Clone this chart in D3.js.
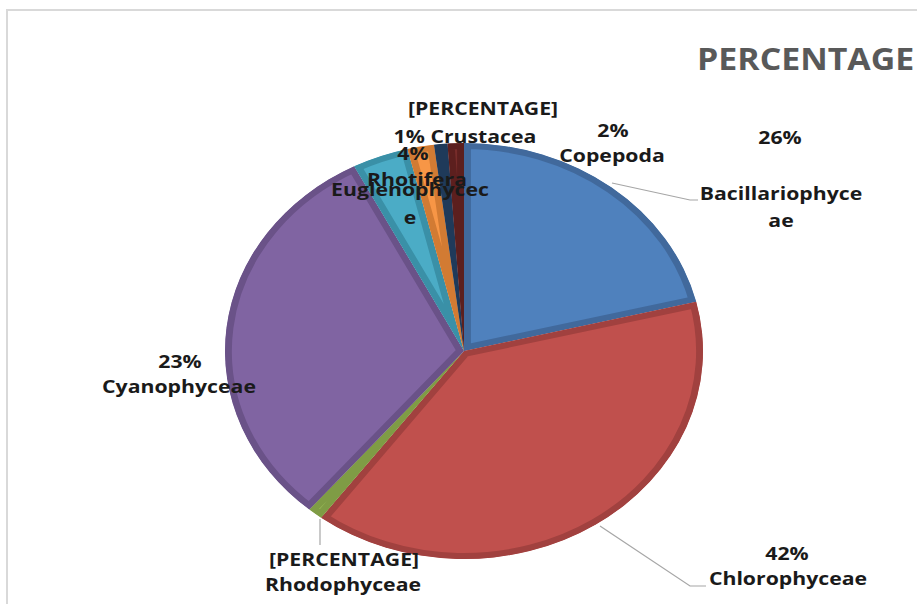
<!DOCTYPE html>
<html>
<head>
<meta charset="utf-8">
<script src="https://cdn.jsdelivr.net/npm/d3@7"></script>
<style>
  body { margin: 0; background: #fff; }
  svg { display: block; }
</style>
</head>
<body>
<div></div>
<script>
const width = 917;
const height = 604;

// slice sizes (labels in the original do not match them)
const categories = ['Bacillariophyceae', 'Chlorophyceae', 'Rhodophyceae', 'Cyanophyceae',
    'Euglenophyceae', 'Rhotifera', 'Crustacea', 'Copepoda'];
const values = [21.2, 39, 1, 31.2, 3.8, 1.8, 0.9, 1.1];
const colors = ['#4f81bd', '#c0504d', '#9bbb59', '#8064a2', '#4bacc6', '#f79646', '#2c4d75', '#772c2a'];
const edgeColors = ['#41699c', '#a1413f', '#7f9c45', '#6a5288', '#3a90a7', '#d27b33', '#1f3a5a', '#5c1f1e'];

// data label lines as printed on the chart
const labelLines = [
    {text: '26%', x: 780, y: 144},
    {text: 'Bacillariophyce', x: 781, y: 200},
    {text: 'ae', x: 781, y: 227},
    {text: '42%', x: 787, y: 560},
    {text: 'Chlorophyceae', x: 788, y: 585},
    {text: '[PERCENTAGE]', x: 344, y: 566},
    {text: 'Rhodophyceae', x: 343, y: 591},
    {text: '23%', x: 180, y: 368},
    {text: 'Cyanophyceae', x: 179, y: 393},
    {text: 'Euglenophycec', x: 410, y: 196},
    {text: 'e', x: 410, y: 224},
    {text: '4%', x: 413, y: 160},
    {text: 'Rhotifera', x: 417, y: 186},
    {text: '[PERCENTAGE]', x: 483, y: 115},
    {text: '1% Crustacea', x: 465, y: 143},
    {text: '2%', x: 613, y: 137},
    {text: 'Copepoda', x: 612, y: 162}
];

const leaders = [
    [[612, 183], [690, 200], [698, 200]],
    [[600, 526], [690, 586], [706, 586]],
    [[320, 519], [320, 545]]
];

const cx = 464, cy = 351, rx = 239, ry = 208;
const stretch = rx / ry; // the whole picture is wider than tall

const svg = d3.select('div').append('svg').attr('width', width).attr('height', height);

svg.append('rect')
    .attr('x', 7).attr('y', 10)
    .attr('width', 930).attr('height', 620)
    .attr('fill', '#fff')
    .attr('stroke', '#d9d9d9')
    .attr('stroke-width', 2);

const pie = d3.pie().sort(null).value(d => d)(values);
const arc = d3.arc().innerRadius(0).outerRadius(ry);

const defs = svg.append('defs');
defs.selectAll('clipPath').data(pie).enter()
    .append('clipPath')
    .attr('id', (d, i) => 'clip' + i)
    .append('path')
    .attr('d', arc);

const g = svg.append('g')
    .attr('transform', 'translate(' + cx + ',' + cy + ') scale(' + stretch + ',1)');

g.selectAll('path.slice').data(pie).enter()
    .append('path')
    .attr('class', 'slice')
    .attr('d', arc)
    .attr('fill', (d, i) => colors[i])
    .attr('stroke', (d, i) => edgeColors[i])
    .attr('stroke-width', 12)
    .attr('clip-path', (d, i) => 'url(#clip' + i + ')');

const line = d3.line();
svg.selectAll('path.leader').data(leaders).enter()
    .append('path')
    .attr('class', 'leader')
    .attr('d', line)
    .attr('fill', 'none')
    .attr('stroke', '#a6a6a6')
    .attr('stroke-width', 1.2);

svg.append('text')
    .attr('transform', 'translate(697,70) scale(' + stretch + ',1)')
    .attr('font-family', 'Open Sans, sans-serif')
    .attr('font-weight', 700)
    .attr('font-size', 29.5)
    .attr('fill', '#595959')
    .text('PERCENTAGE');

svg.selectAll('text.lbl').data(labelLines).enter()
    .append('text')
    .attr('class', 'lbl')
    .attr('transform', d => 'translate(' + d.x + ',' + d.y + ') scale(' + stretch + ',1)')
    .attr('text-anchor', 'middle')
    .attr('font-family', 'Open Sans, sans-serif')
    .attr('font-weight', 700)
    .attr('font-size', 18.5)
    .attr('fill', '#1a1a1a')
    .text(d => d.text);
</script>
</body>
</html>
